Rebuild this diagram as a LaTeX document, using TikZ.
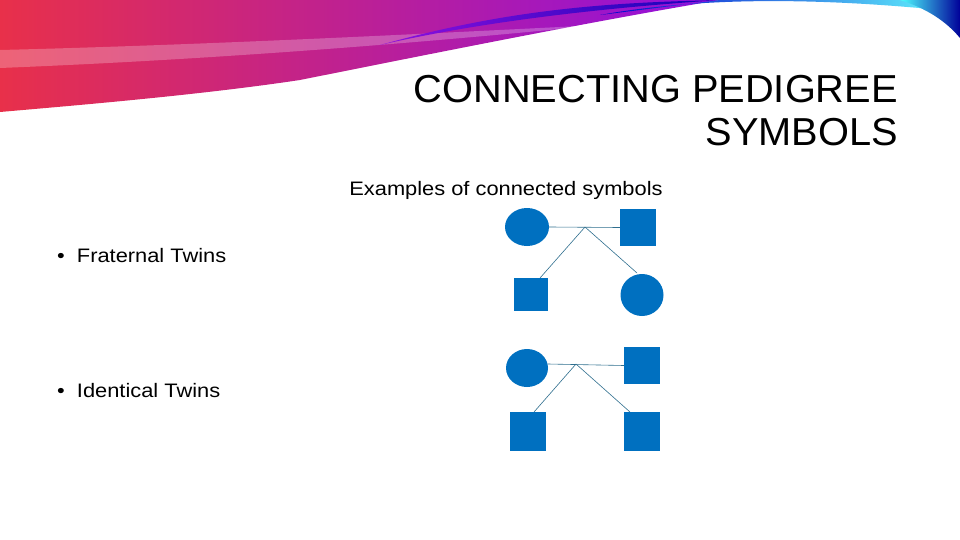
\documentclass[tikz,border=0pt]{standalone}
\usepackage{fontspec}
\setmainfont{Liberation Sans}
\usetikzlibrary{shapes.geometric}
\definecolor{sym}{HTML}{0070C0}
\definecolor{ln}{HTML}{2E6E8E}
\definecolor{bred}{HTML}{E8304A}
\definecolor{bmag}{HTML}{E020C8}
\definecolor{bvio}{HTML}{9010E0}
\begin{document}
\begin{tikzpicture}[x=1pt,y=-1pt,
  fem/.style={fill=sym,ellipse,inner sep=0pt},
  mal/.style={fill=sym,draw=none},
  conn/.style={draw=ln,line width=0.6pt},
  txt/.style={inner sep=0pt,font=\fontsize{19.5}{22}\selectfont}]
\useasboundingbox (0,0) rectangle (960,540);
% banner
\shade[left color=bred,middle color=bmag,right color=bvio] (0,0) -- (720,0) .. controls (600,20) and (450,50) .. (300,80) .. controls (200,95) and (80,105) .. (0,112) -- cycle;
\fill[white,opacity=0.25] (0,50) .. controls (200,45) and (400,35) .. (600,25) .. controls (400,45) and (200,60) .. (0,68) -- cycle;
\shade[left color=bvio,right color=blue!70!black] (380,45) .. controls (500,12) and (600,0) .. (760,0) -- (720,0) .. controls (600,8) and (480,22) .. (380,45) -- cycle;
\shade[left color=blue!80!black,right color=cyan!60] (600,15) .. controls (700,-3) and (820,-3) .. (960,12) -- (960,0) -- (720,0) -- cycle;
\shade[left color=cyan!70,right color=blue!60!black] (900,0) -- (960,0) -- (960,38) .. controls (945,20) and (925,8) .. (900,0) -- cycle;
% texts
\node[inner sep=0pt,anchor=base east,align=right,font=\fontsize{39}{43}\selectfont] (title) at (898,146) {\scalebox{1.02}[1]{CONNECTING PEDIGREE}\\\scalebox{1.02}[1]{SYMBOLS}};
\node[txt,anchor=base] (sub) at (506,195) {\scalebox{1.12}[1]{Examples of connected symbols}};
\node[txt,anchor=base west] (b1) at (57,262) {\scalebox{1.12}[1]{\textbullet\ \ Fraternal Twins}};
\node[txt,anchor=base west] (b2) at (57,397) {\scalebox{1.12}[1]{\textbullet\ \ Identical Twins}};
% fraternal
\node[fem,minimum width=44,minimum height=38] (f1) at (527,227) {};
\node[mal,minimum width=36,minimum height=37] (m1) at (638,227.5) {};
\node[mal,minimum width=34,minimum height=33] (c1) at (531,294.5) {};
\node[fem,minimum width=43,minimum height=42] (c2) at (642,295) {};
\coordinate (a1) at (585,227);
\draw[conn] (f1.east) -- (m1.west);
\draw[conn] (a1) -- (540,278) (a1) -- (637,273);
% identical
\node[fem,minimum width=42,minimum height=38] (f2) at (527,368) {};
\node[mal,minimum width=36,minimum height=37] (m2) at (642,365.5) {};
\node[mal,minimum width=36,minimum height=39] (c3) at (528,431.5) {};
\node[mal,minimum width=36,minimum height=39] (c4) at (642,431.5) {};
\coordinate (a2) at (576,364);
\draw[conn] (548,364) -- (m2.west);
\draw[conn] (a2) -- (534,412) (a2) -- (630,412);
\end{tikzpicture}
\end{document}
